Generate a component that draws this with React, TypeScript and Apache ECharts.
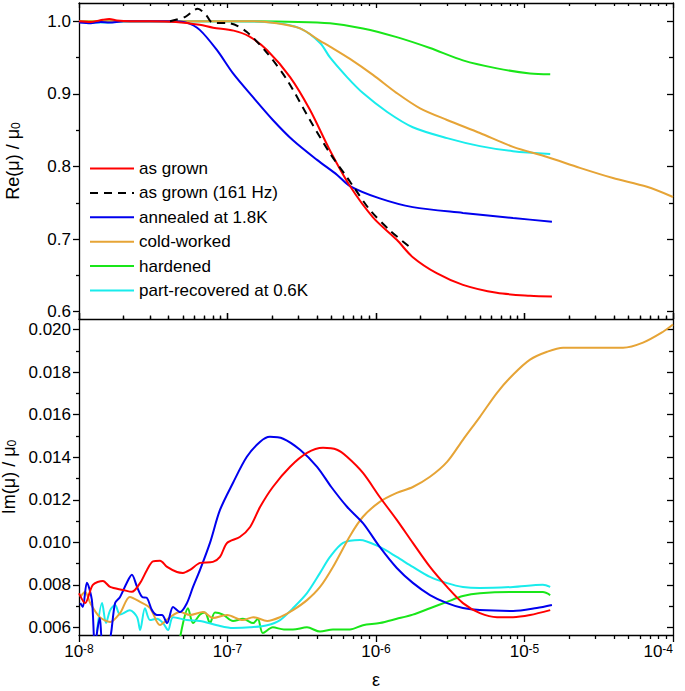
import React, { useEffect, useRef } from 'react';
import * as echarts from 'echarts';

// ---------- axis ticks ----------
const X_MIN = 1e-8;
const X_MAX = 1e-4;
const xMajorTicks = [1e-8, 1e-7, 1e-6, 1e-5, 1e-4];
const xDecades = [-8, -7, -6, -5];
const xMinorMultipliers = [2, 3, 4, 5, 6, 7, 8, 9];

const RE_MIN = 0.59;
const RE_MAX = 1.025;
const reMajorTicks = [0.6, 0.7, 0.8, 0.9, 1.0];
const reMinorTicks = [0.65, 0.75, 0.85, 0.95];

const IM_MIN = 0.00564;
const IM_MAX = 0.0205;
const imMajorTicks = [0.006, 0.008, 0.01, 0.012, 0.014, 0.016, 0.018, 0.02];
const imMinorTicks = [0.007, 0.009, 0.011, 0.013, 0.015, 0.017, 0.019];

// ---------- series ----------
const seriesNames = [
  'as grown',
  'as grown (161 Hz)',
  'annealed at 1.8K',
  'cold-worked',
  'hardened',
  'part-recovered at 0.6K',
];
const seriesColors = ['#ff0000', '#000000', '#0000ee', '#e6a436', '#19e619', '#19ecec'];

// Re(mu)/mu0  [epsilon, value]
const reAsGrown = [
  [1.0e-8, 1.0], [1.2e-8, 0.999], [1.45e-8, 1.002], [1.6e-8, 1.003], [1.8e-8, 1.001],
  [2.2e-8, 1.0], [3e-8, 1.0], [4.5e-8, 0.999], [6.5e-8, 0.995], [8e-8, 0.991],
  [1.1e-7, 0.987], [1.4e-7, 0.979], [1.85e-7, 0.96], [2.64e-7, 0.923], [3.59e-7, 0.878],
  [4.9e-7, 0.822], [6.68e-7, 0.773], [9.54e-7, 0.73], [1.38e-6, 0.699], [1.77e-6, 0.675],
  [2.56e-6, 0.653], [3.85e-6, 0.637], [6.5e-6, 0.626], [1.09e-5, 0.622], [1.53e-5, 0.621],
];
const reAsGrown161 = [
  [4.1e-8, 1.0], [5.2e-8, 1.006], [6.3e-8, 1.017], [7.2e-8, 1.008], [7.9e-8, 0.998],
  [1.04e-7, 0.997], [1.35e-7, 0.985], [1.85e-7, 0.956], [2.52e-7, 0.919], [3.59e-7, 0.864],
  [4.9e-7, 0.818], [6.38e-7, 0.785], [7.0e-7, 0.773], [9.11e-7, 0.74], [1.24e-6, 0.712],
  [1.69e-6, 0.689],
];
const reAnnealed = [
  [1.0e-8, 0.998], [1.2e-8, 0.997], [1.4e-8, 0.999], [1.6e-8, 0.998], [2e-8, 1.0],
  [3e-8, 1.0], [4e-8, 1.0], [5.3e-8, 0.998], [6.5e-8, 0.988], [8.5e-8, 0.96],
  [1.09e-7, 0.928], [1.49e-7, 0.895], [2.02e-7, 0.864], [2.76e-7, 0.836], [4.01e-7, 0.809],
  [5.5e-7, 0.788], [6.68e-7, 0.773], [1.06e-6, 0.756], [1.77e-6, 0.744], [3.85e-6, 0.736],
  [8.37e-6, 0.729], [1.53e-5, 0.724],
];
const reColdWorked = [
  [1e-8, 1.0], [3e-8, 1.0], [1e-7, 1.0], [1.5e-7, 1.0], [2.15e-7, 0.997], [3.08e-7, 0.99],
  [4.2e-7, 0.973], [4.9e-7, 0.965], [6.68e-7, 0.948], [9.54e-7, 0.926], [1.38e-6, 0.901],
  [1.98e-6, 0.88], [3.01e-6, 0.864], [5.01e-6, 0.846], [8.37e-6, 0.827], [1.42e-5, 0.813],
  [2.36e-5, 0.798], [3.94e-5, 0.784], [6.68e-5, 0.772], [1e-4, 0.758],
];
const reHardened = [
  [1e-8, 1.0], [1e-7, 1.0], [3e-7, 0.999], [4.9e-7, 0.997], [8.17e-7, 0.99],
  [1.38e-6, 0.978], [2.31e-6, 0.963], [3.85e-6, 0.946], [6.53e-6, 0.935], [1.09e-5, 0.928],
  [1.49e-5, 0.927],
];
const rePartRecovered = [
  [1e-8, 0.999], [1.5e-8, 0.998], [2e-8, 1.0], [1e-7, 1.0], [2e-7, 0.998], [3.08e-7, 0.99],
  [4.2e-7, 0.97], [4.9e-7, 0.95], [6.38e-7, 0.923], [8.17e-7, 0.901], [1.19e-6, 0.875],
  [1.77e-6, 0.854], [3.01e-6, 0.839], [5.01e-6, 0.828], [8.37e-6, 0.821], [1.49e-5, 0.817],
];

// Im(mu)/mu0  [epsilon, value]
const imAsGrown = [
  [1.0e-8, 0.0076], [1.1e-8, 0.00714], [1.24e-8, 0.008], [1.45e-8, 0.00818], [1.62e-8, 0.0079],
  [1.98e-8, 0.00776], [2.27e-8, 0.00767], [2.58e-8, 0.00809], [2.87e-8, 0.0087], [3.15e-8, 0.0091],
  [3.51e-8, 0.00913], [3.92e-8, 0.00884], [4.57e-8, 0.0086], [5.01e-8, 0.00856], [5.59e-8, 0.0087],
  [6.53e-8, 0.00903], [7.98e-8, 0.00908], [8.9e-8, 0.00931], [9.93e-8, 0.00997], [1.21e-7, 0.01025],
  [1.42e-7, 0.01072], [1.66e-7, 0.01167], [2.02e-7, 0.0126], [2.64e-7, 0.01355], [3.43e-7, 0.0142],
  [4.4e-7, 0.01444], [5.46e-7, 0.01435], [6.38e-7, 0.01402], [8.17e-7, 0.01326], [1.06e-6, 0.01213],
  [1.38e-6, 0.01105], [1.77e-6, 0.00997], [2.31e-6, 0.00884], [3.01e-6, 0.0079], [3.85e-6, 0.00714],
  [5.01e-6, 0.00667], [6.53e-6, 0.00648], [8.37e-6, 0.00648], [1.09e-5, 0.00658], [1.49e-5, 0.00681],
];
const imAnnealed = [
  [1.02e-8, 0.00714], [1.06e-8, 0.00696], [1.13e-8, 0.0081], [1.22e-8, 0.0073], [1.28e-8, 0.0052],
  [1.38e-8, 0.00644], [1.45e-8, 0.0052], [1.6e-8, 0.0053], [1.75e-8, 0.00714], [1.89e-8, 0.00743],
  [2.1e-8, 0.0081], [2.27e-8, 0.00847], [2.46e-8, 0.0079], [2.66e-8, 0.00743], [2.87e-8, 0.00738],
  [3.1e-8, 0.00681], [3.35e-8, 0.00658], [3.62e-8, 0.00658], [3.92e-8, 0.0062], [4.3e-8, 0.00696],
  [4.79e-8, 0.00672], [5.33e-8, 0.00714], [5.86e-8, 0.0079], [6.53e-8, 0.0087], [7.62e-8, 0.00997],
  [8.9e-8, 0.01152], [1.09e-7, 0.0128], [1.35e-7, 0.01402], [1.66e-7, 0.01473], [1.93e-7, 0.01496],
  [2.37e-7, 0.01487], [3.08e-7, 0.01435], [4.01e-7, 0.01355], [5.0e-7, 0.0126], [6.38e-7, 0.01167],
  [8.17e-7, 0.0109], [1.06e-6, 0.00978], [1.38e-6, 0.00879], [1.77e-6, 0.00809], [2.31e-6, 0.00752],
  [3.01e-6, 0.00714], [3.85e-6, 0.00691], [5.01e-6, 0.00681], [8.37e-6, 0.00677], [1.21e-5, 0.00691],
  [1.53e-5, 0.00705],
];
const imColdWorked = [
  [1.02e-8, 0.00743], [1.1e-8, 0.00767], [1.19e-8, 0.00714], [1.38e-8, 0.00648], [1.62e-8, 0.00625],
  [1.89e-8, 0.00667], [2.2e-8, 0.00743], [2.58e-8, 0.0072], [3.01e-8, 0.00691], [3.51e-8, 0.00611],
  [4.1e-8, 0.00648], [4.79e-8, 0.00672], [5.59e-8, 0.00658], [6.84e-8, 0.00672], [7.98e-8, 0.00644],
  [9.93e-8, 0.00658], [1.27e-7, 0.00634], [1.49e-7, 0.00648], [1.85e-7, 0.0063], [2.26e-7, 0.00648],
  [2.76e-7, 0.00681], [3.43e-7, 0.00728], [4.2e-7, 0.0079], [5.13e-7, 0.00884], [6.68e-7, 0.0103],
  [8.17e-7, 0.0112], [1.06e-6, 0.0119], [1.38e-6, 0.01232], [1.77e-6, 0.0126], [2.31e-6, 0.01308],
  [3.01e-6, 0.01378], [3.85e-6, 0.01482], [5.01e-6, 0.0159], [6.53e-6, 0.01703], [8.37e-6, 0.01788],
  [1.09e-5, 0.01859], [1.42e-5, 0.01896], [1.82e-5, 0.01915], [3.08e-5, 0.01915], [4.61e-5, 0.01915],
  [6.28e-5, 0.01939], [8.57e-5, 0.0199], [1e-4, 0.02024],
];
const imHardened = [
  [4.79e-8, 0.0055], [5.42e-8, 0.0069], [5.86e-8, 0.0062], [6.53e-8, 0.0066], [7.05e-8, 0.0067],
  [7.62e-8, 0.0062], [8.24e-8, 0.0067], [9.33e-8, 0.0066], [1.09e-7, 0.0063], [1.27e-7, 0.0064],
  [1.49e-7, 0.0062], [1.6e-7, 0.0064], [1.73e-7, 0.00573], [2.02e-7, 0.006], [2.4e-7, 0.0059],
  [2.76e-7, 0.0059], [3.43e-7, 0.006], [4.2e-7, 0.0058], [5.13e-7, 0.0059], [6.68e-7, 0.0059],
  [8.17e-7, 0.0061], [1.06e-6, 0.0062], [1.38e-6, 0.0064], [1.77e-6, 0.0066], [2.31e-6, 0.0069],
  [3.01e-6, 0.0072], [3.85e-6, 0.00747], [5.01e-6, 0.0076], [8.37e-6, 0.00766], [1.33e-5, 0.00766],
  [1.49e-5, 0.00752],
];
const imPartRecovered = [
  [1.32e-8, 0.0058], [1.43e-8, 0.00714], [1.52e-8, 0.0062], [1.62e-8, 0.0068], [1.75e-8, 0.00705],
  [1.89e-8, 0.0066], [2.2e-8, 0.0068], [2.46e-8, 0.00648], [2.58e-8, 0.00587], [2.78e-8, 0.0069],
  [3.01e-8, 0.00634], [3.35e-8, 0.0064], [3.68e-8, 0.0062], [3.98e-8, 0.00587], [4.3e-8, 0.00648],
  [5.33e-8, 0.00634], [6.53e-8, 0.0063], [8.5e-8, 0.0061], [1.09e-7, 0.00597], [1.42e-7, 0.006],
  [1.85e-7, 0.0061], [2.26e-7, 0.00634], [2.76e-7, 0.0069], [3.43e-7, 0.00761], [4.2e-7, 0.00856],
  [4.9e-7, 0.00931], [6.0e-7, 0.00997], [7.8e-7, 0.01011], [1.06e-6, 0.00978], [1.38e-6, 0.00931],
  [1.77e-6, 0.00884], [2.31e-6, 0.00837], [3.01e-6, 0.00808], [3.85e-6, 0.0079], [5.01e-6, 0.00785],
  [8.37e-6, 0.0079], [1.33e-5, 0.008], [1.49e-5, 0.0079],
];

const FONT = '"Liberation Sans", Arial, Helvetica, sans-serif';
const AXIS_LINE = { color: '#000', width: 1.3 };

function xMinorTicks(): number[] {
  const out: number[] = [];
  for (const d of xDecades) for (const m of xMinorMultipliers) out.push(m * Math.pow(10, d));
  return out;
}

function xAxisDef(gridIndex: number, position: string, values: number[], inside: boolean, len: number, showLine: boolean, extra: any = {}) {
  return {
    type: 'log',
    logBase: 10,
    gridIndex,
    position,
    min: X_MIN,
    max: X_MAX,
    axisLine: { show: showLine, onZero: false, lineStyle: AXIS_LINE },
    axisTick: { show: true, inside, length: len, customValues: values, lineStyle: AXIS_LINE },
    axisLabel: { show: false },
    splitLine: { show: false },
    minorTick: { show: false },
    ...extra,
  };
}

function yAxisDef(gridIndex: number, position: string, min: number, max: number, values: number[], inside: boolean, len: number, showLine: boolean, extra: any = {}) {
  return {
    type: 'value',
    gridIndex,
    position,
    min,
    max,
    axisLine: { show: showLine, onZero: false, lineStyle: AXIS_LINE },
    axisTick: { show: true, inside, length: len, customValues: values, lineStyle: AXIS_LINE },
    axisLabel: { show: false },
    splitLine: { show: false },
    minorTick: { show: false },
    ...extra,
  };
}

export default function App() {
  const ref = useRef<HTMLDivElement>(null);

  useEffect(() => {
    if (!ref.current) return;
    const chart = echarts.init(ref.current, undefined, { renderer: 'svg' });
    const minors = xMinorTicks();

    const labelStyle = { fontSize: 17, fontFamily: FONT, color: '#000' };
    const nameStyle = {
      fontSize: 18,
      fontFamily: FONT,
      color: '#000',
      rich: { sub: { fontSize: 12, fontFamily: FONT, color: '#000', verticalAlign: 'bottom', padding: [6, 0, 0, 0] } },
    };

    const xAxes = [
      xAxisDef(0, 'bottom', xMajorTicks, true, 6, true),
      xAxisDef(0, 'bottom', minors, true, 2.5, false),
      xAxisDef(0, 'top', xMajorTicks, true, 5, true),
      xAxisDef(0, 'top', minors, true, 3, false),
      xAxisDef(1, 'top', xMajorTicks, false, 6, false),
      xAxisDef(1, 'top', minors, false, 3.5, false),
      xAxisDef(1, 'bottom', xMajorTicks, false, 7, true, {
        axisLabel: {
          show: true,
          customValues: xMajorTicks,
          margin: 8,
          alignMaxLabel: 'right',
          ...labelStyle,
          formatter: (v: number) => '10{sup|' + Math.round(Math.log10(v)) + '}',
          rich: { sup: { fontSize: 12, fontFamily: FONT, color: '#000', verticalAlign: 'top' } },
        },
        name: 'ε',
        nameLocation: 'middle',
        nameGap: 36,
        nameTextStyle: { fontSize: 18, fontFamily: FONT, color: '#000' },
      }),
      xAxisDef(1, 'bottom', minors, false, 4, false),
    ];

    const yAxes = [
      yAxisDef(0, 'left', RE_MIN, RE_MAX, reMajorTicks, false, 6, true, {
        axisLabel: {
          show: true,
          customValues: reMajorTicks,
          margin: 8,
          ...labelStyle,
          formatter: (v: number) => v.toFixed(1),
        },
        name: 'Re(μ) / μ{sub|0}',
        nameLocation: 'middle',
        nameGap: 57,
        nameTextStyle: nameStyle,
      }),
      yAxisDef(0, 'left', RE_MIN, RE_MAX, reMinorTicks, false, 3, false),
      yAxisDef(0, 'right', RE_MIN, RE_MAX, reMajorTicks, true, 6, true),
      yAxisDef(0, 'right', RE_MIN, RE_MAX, reMinorTicks, true, 4, false),
      yAxisDef(1, 'left', IM_MIN, IM_MAX, imMajorTicks, false, 6, true, {
        axisLabel: {
          show: true,
          customValues: imMajorTicks,
          margin: 8,
          ...labelStyle,
          formatter: (v: number) => v.toFixed(3),
        },
        name: 'Im(μ) / μ{sub|0}',
        nameLocation: 'middle',
        nameGap: 57,
        nameTextStyle: nameStyle,
      }),
      yAxisDef(1, 'left', IM_MIN, IM_MAX, imMinorTicks, false, 3, false),
      yAxisDef(1, 'right', IM_MIN, IM_MAX, imMajorTicks, true, 6, true),
      yAxisDef(1, 'right', IM_MIN, IM_MAX, imMinorTicks, true, 4, false),
    ];

    const mk = (name: string, data: number[][], top: boolean) => {
      const i = seriesNames.indexOf(name);
      return {
        name,
        type: 'line',
        xAxisIndex: top ? 0 : 6,
        yAxisIndex: top ? 0 : 4,
        data,
        symbol: 'none',
        showSymbol: false,
        smooth: 0.3,
        clip: true,
        lineStyle: { color: seriesColors[i], width: 2, type: i === 1 ? [8, 6] : 'solid' },
        itemStyle: { color: seriesColors[i] },
      };
    };

    const series = [
      mk('hardened', reHardened, true),
      mk('part-recovered at 0.6K', rePartRecovered, true),
      mk('cold-worked', reColdWorked, true),
      mk('annealed at 1.8K', reAnnealed, true),
      mk('as grown', reAsGrown, true),
      mk('as grown (161 Hz)', reAsGrown161, true),
      mk('hardened', imHardened, false),
      mk('part-recovered at 0.6K', imPartRecovered, false),
      mk('cold-worked', imColdWorked, false),
      mk('annealed at 1.8K', imAnnealed, false),
      mk('as grown', imAsGrown, false),
    ];

    chart.setOption({
      animation: false,
      backgroundColor: '#fff',
      grid: [
        { left: 79, top: 3, width: 594, height: 316, containLabel: false, outerBoundsMode: 'none' },
        { left: 79, top: 319, width: 594, height: 316, containLabel: false, outerBoundsMode: 'none' },
      ],
      legend: {
        data: seriesNames,
        orient: 'vertical',
        left: 89,
        top: 160,
        padding: 0,
        itemWidth: 44,
        itemHeight: 17,
        itemGap: 7.4,
        selectedMode: false,
        itemStyle: { opacity: 0 },
        textStyle: { fontSize: 17, fontFamily: FONT, color: '#000' },
      },
      xAxis: xAxes,
      yAxis: yAxes,
      series,
    });

    return () => chart.dispose();
  }, []);

  return (
    <div
      ref={ref}
      style={{ position: 'absolute', left: 0, top: 0, width: 685, height: 691, background: '#fff' }}
    />
  );
}
